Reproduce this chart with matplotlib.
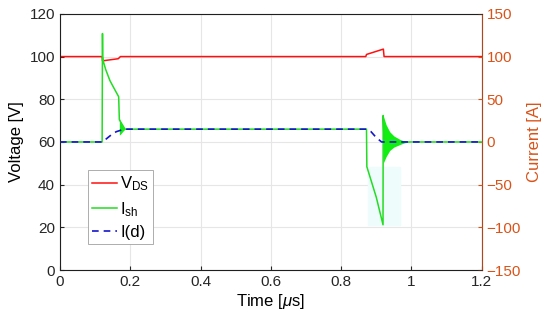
import numpy as np
from matplotlib import pyplot as plt

plt.rcParams['font.family'] = ['Liberation Sans', 'DejaVu Sans']
plt.rcParams['mathtext.fontset'] = 'custom'
plt.rcParams['mathtext.rm'] = 'Liberation Sans'
plt.rcParams['mathtext.it'] = 'Liberation Sans:italic'

# drain-source voltage [V]
t_vds = [0, 0.120, 0.121, 0.166, 0.172, 0.870, 0.872, 0.920, 0.922, 0.933, 1.2]
vds = [100, 100, 98, 99, 100, 100, 101, 103.5, 100, 100, 100]

# shunt current [A]
t_ish = [0, 0.120, 0.121, 0.1215, 0.123, 0.130, 0.142, 0.155, 0.167, 0.169,
         0.185, 0.872, 0.873, 0.885, 0.900, 0.919, 0.9195, 0.922, 0.990, 1.2]
ish = [0, 0, 127, 100, 95, 85, 72, 62, 53, 26,
       15, 15, -29, -45, -65, -97, 31, 0, 0, 0]

# ringing envelopes [A]
t_ring1 = [0.169, 0.172, 0.176, 0.180, 0.185]
ring1_hi = [28, 24, 20, 17, 15]
ring1_lo = [8, 9, 11, 13, 15]
t_ring2 = [0.9195, 0.928, 0.938, 0.950, 0.967, 0.980, 0.995]
ring2_hi = [31, 20, 12, 7, 3, 1, 0]
ring2_lo = [-25, -17, -10, -6, -3, -1, 0]

# diode current I(d) [A]
t_id = [0, 0.121, 0.130, 0.145, 0.160, 0.175, 0.188, 0.872, 0.885, 0.900, 0.915, 1.2]
i_d = [0, 0, 3, 8, 12, 14, 15, 15, 12, 5, 0, 0]

orange = '#D95319'

fig = plt.figure(figsize=(5.5, 3.23), dpi=100)
ax = fig.add_axes([0.109, 0.164, 0.767, 0.793])
ax2 = ax.twinx()

ax.set_xlim(0, 1.2)
ax.set_ylim(0, 120)
ax2.set_ylim(-150, 150)
ax.set_xticks(np.arange(0, 1.21, 0.2))
ax.set_xticklabels(['0', '0.2', '0.4', '0.6', '0.8', '1', '1.2'])
ax.set_yticks(np.arange(0, 121, 20))
ax2.set_yticks(np.arange(-150, 151, 50))
ax.grid(True, color='#e6e6e6', linewidth=0.8)
ax.set_axisbelow(True)

ax2.axvspan(0.875, 0.967, ymin=(-97 + 150) / 300, ymax=(-29 + 150) / 300,
            color='#eefcfc', zorder=0)
l1, = ax.plot(t_vds, vds, color='#ff1010', linewidth=1.1)
l2, = ax2.plot(t_ish, ish, color='#22dd22', linewidth=1.1)
ax2.fill_between(t_ring1, ring1_lo, ring1_hi, color='#11ee11', linewidth=0)
ax2.fill_between(t_ring2, ring2_lo, ring2_hi, color='#11ee11', linewidth=0)
l3, = ax2.plot(t_id, i_d, color='#1515cc', linestyle='--', linewidth=1.2,
               dashes=(4, 3))

for a in (ax, ax2):
    a.tick_params(direction='in', length=3, labelsize=11)
ax.tick_params(colors='#262626')
ax2.tick_params(axis='y', colors=orange)
for s in ('left', 'bottom', 'top'):
    ax2.spines[s].set_color('#262626')
    ax2.spines[s].set_linewidth(0.6)
ax2.spines['right'].set_color(orange)
ax2.spines['right'].set_linewidth(0.6)

ax.set_xlabel(r'Time [$\mu$s]', fontsize=12, labelpad=2)
ax.set_ylabel('Voltage [V]', fontsize=12, labelpad=4)
ax2.set_ylabel('Current [A]', fontsize=12, color=orange, labelpad=4)

leg = ax2.legend([l1, l2, l3], [r'V$_{\mathregular{DS}}$', r'I$_{\mathregular{sh}}$', 'I(d)'],
                 loc='lower left', bbox_to_anchor=(0.066, 0.10), fontsize=12,
                 fancybox=False, edgecolor='#a0a0a0', framealpha=1,
                 handlelength=1.5, handletextpad=0.2, borderpad=0.25,
                 labelspacing=0.4, borderaxespad=0)
leg.get_frame().set_linewidth(0.6)

plt.savefig('out.png', dpi=100)
